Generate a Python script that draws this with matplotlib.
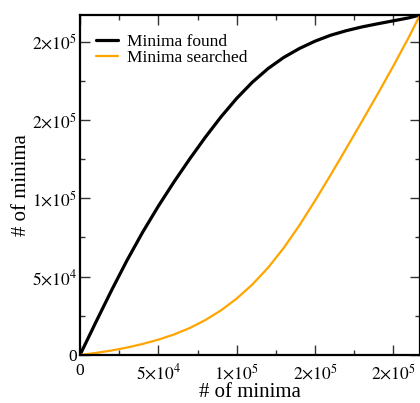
import matplotlib
matplotlib.use("Agg")
import matplotlib.pyplot as plt
from matplotlib.ticker import MultipleLocator, FixedLocator

# Data (in thousands of minima)
curve_x = [0, 10, 20, 30, 40, 50, 60, 70, 80, 90, 100, 110, 120, 130, 140,
           150, 160, 170, 180, 190, 200, 210, 217]
found_y = [0, 20.7, 41.0, 60.4, 78.4, 95.0, 110.5, 125.1, 139.0, 152.0, 163.8,
           174.1, 182.8, 189.9, 195.6, 200.3, 204.1, 207.0, 209.4, 211.4,
           213.3, 215.2, 217.0]
searched_y = [0, 1.3, 2.85, 4.75, 7.05, 9.8, 13.1, 17.2, 22.3, 28.5, 36.0,
              45.0, 55.7, 68.3, 82.7, 98.5, 115.0, 132.0, 149.2, 166.6, 184.5,
              203.1, 217.0]
scale = 1000

tick_values = [0, 50000, 100000, 150000, 200000]
tick_labels = ["0", r"$5{\times}10^{4}$", r"$1{\times}10^{5}$",
               r"$2{\times}10^{5}$", r"$2{\times}10^{5}$"]

series_names = ["Minima found", "Minima searched"]
axis_label = "# of minima"

plt.rcParams["font.family"] = ["Liberation Serif", "DejaVu Serif"]
plt.rcParams["mathtext.fontset"] = "stix"

fig = plt.figure(figsize=(4.2, 4.03), dpi=100)
ax = fig.add_axes([80 / 420, 48 / 403, 340 / 420, 340 / 403])

xs = [v * scale for v in curve_x]
ax.plot(xs, [v * scale for v in found_y], color="black", lw=2.3,
        label=series_names[0], solid_joinstyle="round", solid_capstyle="round")
ax.plot(xs, [v * scale for v in searched_y], color="#FFA500", lw=1.6,
        label=series_names[1], solid_joinstyle="round", solid_capstyle="round")

ax.set_xlim(0, 217000)
ax.set_ylim(0, 217000)

for axis in (ax.xaxis, ax.yaxis):
    axis.set_major_locator(FixedLocator(tick_values))
    axis.set_minor_locator(MultipleLocator(25000))
ax.set_xticklabels(tick_labels)
ax.set_yticklabels(tick_labels)

ax.tick_params(which="both", direction="in", top=True, right=True,
               width=1.0, color="#333333", labelsize=12.5)
ax.tick_params(which="major", length=7)
ax.tick_params(which="minor", length=3.5)
ax.tick_params(axis="x", pad=6)
ax.tick_params(axis="y", pad=2)

for s in ax.spines.values():
    s.set_linewidth(1.6)

ax.set_xlabel(axis_label, fontsize=15)
ax.set_ylabel(axis_label, fontsize=15)
ax.xaxis.set_label_coords(0.5, -0.083)
ax.yaxis.set_label_coords(-0.145, 0.5)

ax.legend(loc="upper left", bbox_to_anchor=(0.047, 0.945), frameon=False,
          fontsize=12.5, borderpad=0, borderaxespad=0, handlelength=1.25,
          handletextpad=0.55, labelspacing=0.0)

fig.savefig("out.png", dpi=100)
